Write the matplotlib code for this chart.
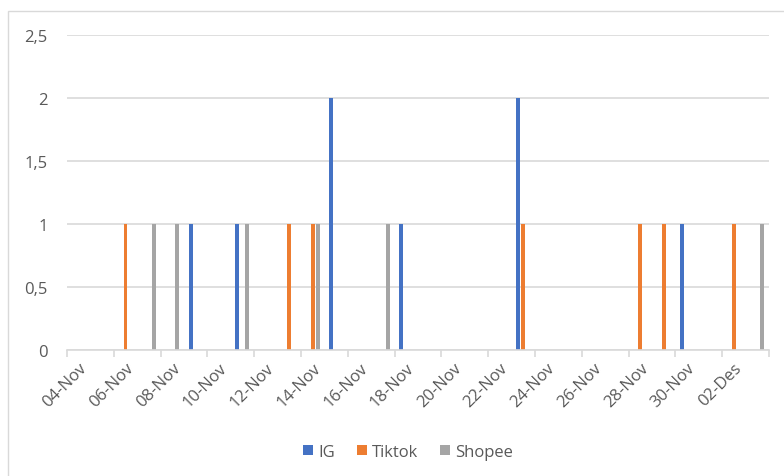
import matplotlib.pyplot as plt
import matplotlib.patches as mpatches
import numpy as np

# Daily posting counts, 04-Nov .. 03-Des
days = ["04-Nov", "05-Nov", "06-Nov", "07-Nov", "08-Nov", "09-Nov", "10-Nov", "11-Nov",
        "12-Nov", "13-Nov", "14-Nov", "15-Nov", "16-Nov", "17-Nov", "18-Nov", "19-Nov",
        "20-Nov", "21-Nov", "22-Nov", "23-Nov", "24-Nov", "25-Nov", "26-Nov", "27-Nov",
        "28-Nov", "29-Nov", "30-Nov", "01-Des", "02-Des", "03-Des"]

ig     = [0, 0, 0, 0, 0, 1, 0, 1, 0, 0, 0, 2, 0, 0, 1, 0, 0, 0, 0, 2, 0, 0, 0, 0, 0, 0, 1, 0, 0, 0]
tiktok = [0, 0, 1, 0, 0, 0, 0, 0, 0, 1, 1, 0, 0, 0, 0, 0, 0, 0, 0, 1, 0, 0, 0, 0, 1, 1, 0, 0, 1, 0]
shopee = [0, 0, 0, 1, 1, 0, 0, 1, 0, 0, 1, 0, 0, 1, 0, 0, 0, 0, 0, 0, 0, 0, 0, 0, 0, 0, 0, 0, 0, 1]

series = [("IG", ig, "#4472C4", -0.22),
          ("Tiktok", tiktok, "#ED7D31", 0.0),
          ("Shopee", shopee, "#A5A5A5", 0.21)]

plt.rcParams['font.family'] = ['Open Sans', 'DejaVu Sans']
txt = "#595959"
grid = "#D9D9D9"

fig = plt.figure(figsize=(7.84, 4.77), dpi=100)
W, H = 784, 477
ax = fig.add_axes([67 / W, (H - 351) / H, (769 - 67) / W, (351 - 36) / H])

# chart frame (runs off the right and bottom edges)
fig.patches.append(mpatches.Rectangle((8 / W, -0.1), 1.2, (H - 12) / H + 0.1,
                                      transform=fig.transFigure, fill=False,
                                      edgecolor=grid, linewidth=1.0))

x = np.arange(len(days)) + 0.5
for name, vals, color, off in series:
    ax.bar(x + off, vals, width=0.17, color=color, label=name, zorder=3)

ax.set_xlim(0, len(days))
ax.set_ylim(0, 2.5)
yt = [0, 0.5, 1, 1.5, 2, 2.5]
ax.set_yticks(yt, [f"{v:g}".replace(".", ",") for v in yt])
ax.yaxis.grid(True, color=grid, linewidth=1.2, zorder=0)
ax.tick_params(axis='y', length=0, pad=14, labelsize=12, labelcolor=txt)

# tick marks between day groups, labels at day centres
ax.set_xticks(np.arange(0, len(days) + 1, 2), [""] * 16)
ax.tick_params(axis='x', which='major', direction='out', length=5, width=1.2, color=grid)
ax.set_xticks(x[::2], minor=True)
ax.set_xticklabels(days[::2], minor=True, rotation=45, ha='right', va='top',
                   rotation_mode='anchor')
ax.tick_params(axis='x', which='minor', length=0, pad=7, labelsize=12, labelcolor=txt)

for s in ["top", "right", "left"]:
    ax.spines[s].set_visible(False)
ax.spines["bottom"].set_color(grid)
ax.spines["bottom"].set_linewidth(1.2)
ax.spines["bottom"].set_zorder(4)

fig.legend(loc='center', bbox_to_anchor=(408 / W, (H - 453) / H), ncol=3, frameon=False,
           fontsize=12, labelcolor=txt, handlelength=0.6, handleheight=0.6,
           handletextpad=0.3, columnspacing=1.3)

fig.savefig("out.png", dpi=100)
